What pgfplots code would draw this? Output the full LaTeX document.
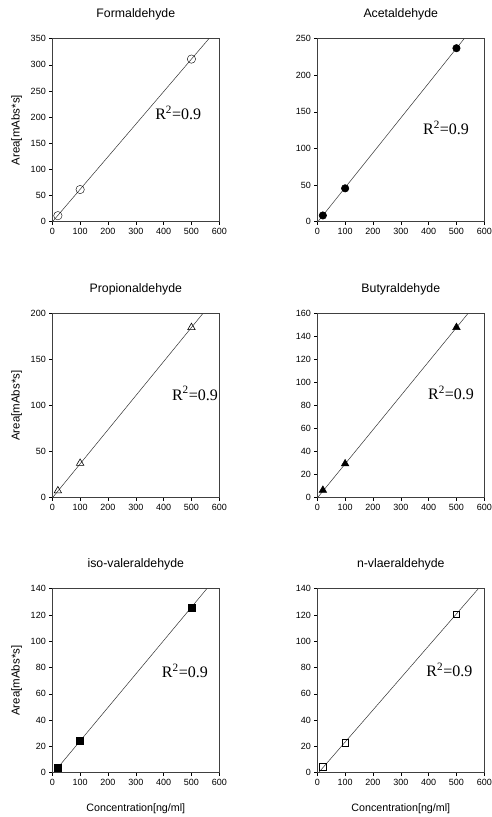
\documentclass[border=0pt]{standalone}
\usepackage{fontspec}
\setmainfont{Liberation Sans}
\newfontfamily\timesfont{Liberation Serif}
\usepackage{pgfplots}
\pgfplotsset{compat=1.18}

\pgfplotsset{
  calib/.style={
    scale only axis, width=167pt, height=183pt,
    xmin=0, xmax=600, ymin=0,
    xtick={0,100,...,600},
    tick align=outside, xtick pos=left, ytick pos=left,
    major tick length=3pt,
    tick label style={font=\fontsize{9}{10}\selectfont},
    /pgf/number format/assume math mode=true,
    /pgf/number format/1000 sep={},
    axis line style={black!75, line width=0.6pt},
    tick style={black, line width=0.5pt},
    title style={at={(0.5,1.100)}, anchor=center, font=\fontsize{12.3}{13}\selectfont},
    xlabel style={at={(0.5,-0.195)}, anchor=center, font=\fontsize{10.7}{11}\selectfont},
    ylabel style={at={(-0.213,0.5)}, anchor=center, font=\fontsize{11.5}{12}\selectfont},
    clip=true,
  },
  fitline/.style={black!80, line width=0.5pt, no marks},
  pts/.style={only marks, black, mark options={line width=0.6pt}},
}

\newcommand{\rsq}[2]{\node[font=\timesfont\fontsize{16}{17}\selectfont] at (rel axis cs:#1,#2) {R\textsuperscript{2}=0.9};}

\begin{document}
\begin{tikzpicture}
\useasboundingbox (0pt,0pt) rectangle (492pt,817pt);

% Formaldehyde
\begin{axis}[calib, at={(52.3pt,595.3pt)}, anchor=south west,
  ymax=350, ytick={0,50,...,350}, title={Formaldehyde}, ylabel={Area[mAbs*s]}]
\addplot[fitline] coordinates {(0.6,0) (562.6,350)};
\addplot[pts, mark=o, mark size=4.2pt, mark options={fill=white}] coordinates {(20,11.5) (100,61.5) (500,311)};
\rsq{0.754}{0.593}
\end{axis}

% Acetaldehyde
\begin{axis}[calib, at={(317.3pt,595.3pt)}, anchor=south west,
  ymax=250, ytick={0,50,...,250}, title={Acetaldehyde}]
\addplot[fitline] coordinates {(2.1,0) (527.6,250)};
\addplot[pts, mark=*, mark size=3.7pt] coordinates {(20,8.5) (100,45.6) (500,237)};
\rsq{0.771}{0.511}
\end{axis}

% Propionaldehyde
\begin{axis}[calib, at={(52.3pt,319.3pt)}, anchor=south west, height=184pt,
  ymax=200, ytick={0,50,...,200}, title={Propionaldehyde}, ylabel={Area[mAbs*s]}]
\addplot[fitline] coordinates {(0.7,0) (540.4,200)};
\addplot[pts, mark=triangle, mark size=4.3pt] coordinates {(20,7.5) (100,37.5) (500,185)};
\rsq{0.854}{0.567}
\end{axis}

% Butyraldehyde
\begin{axis}[calib, at={(317.3pt,319.3pt)}, anchor=south west, height=184pt,
  ymax=160, ytick={0,20,...,160}, title={Butyraldehyde}]
\addplot[fitline] coordinates {(0.8,0) (540.7,160)};
\addplot[pts, mark=triangle*, mark size=4.3pt] coordinates {(20,6.5) (100,29.5) (500,148)};
\rsq{0.801}{0.571}
\end{axis}

% iso-valeraldehyde
\begin{axis}[calib, at={(52.3pt,44.3pt)}, anchor=south west, height=184pt,
  ymax=140, ytick={0,20,...,140}, title={iso-valeraldehyde},
  ylabel={Area[mAbs*s]}, xlabel={Concentration[ng/ml]}]
\addplot[fitline] coordinates {(4.9,0) (555.2,140)};
\addplot[pts, mark=square*, mark size=3.4pt] coordinates {(20,4) (100,24) (500,125.5)};
\rsq{0.794}{0.553}
\end{axis}

% n-vlaeraldehyde
\begin{axis}[calib, at={(317.3pt,44.3pt)}, anchor=south west, height=184pt,
  ymax=140, ytick={0,20,...,140}, title={n-vlaeraldehyde},
  xlabel={Concentration[ng/ml]}]
\addplot[fitline] coordinates {(4.4,0) (578.5,140)};
\addplot[pts, mark=square, mark size=3.2pt] coordinates {(20,4.5) (100,22.7) (500,120.7)};
\rsq{0.791}{0.558}
\end{axis}
\end{tikzpicture}
\end{document}
